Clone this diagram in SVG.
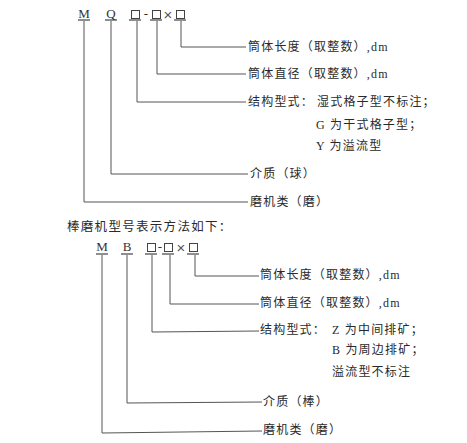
<svg xmlns="http://www.w3.org/2000/svg" width="467" height="443" viewBox="0 0 467 443">
<style>
.ln{stroke:#555;stroke-width:1;fill:none}
.bx{stroke:#444;stroke-width:1;fill:none}
.ul{stroke:#444;stroke-width:1.2}
.cd{font-family:"Liberation Serif","Noto Sans CJK SC",serif;font-size:13px;fill:#333;text-anchor:middle}
.x{font-family:"Liberation Sans",sans-serif;font-size:15px;fill:#555;text-anchor:middle}
.lb{font-family:"Liberation Serif","Noto Sans CJK SC",serif;font-size:12px;fill:#2a2a2a;letter-spacing:1.2px}
.tt{font-family:"Liberation Serif","Noto Sans CJK SC",serif;font-size:12.5px;fill:#2a2a2a;letter-spacing:1.3px}
</style>
<rect width="467" height="443" fill="#fff"/>
<g id="connectors">
<polyline class="ln" points="181,21 181,47 246,47"/>
<polyline class="ln" points="157,21 157,74 246,74"/>
<polyline class="ln" points="137,21 137,102 246,102"/>
<polyline class="ln" points="111,21 111,174 248,174"/>
<polyline class="ln" points="84,21 84,202 248,202"/>
<polyline class="ln" points="195,255 195,276 259,276"/>
<polyline class="ln" points="170,255 170,304 259,304"/>
<polyline class="ln" points="152,255 152,332 259,331"/>
<polyline class="ln" points="127,255 127,403 262,402"/>
<polyline class="ln" points="102,255 102,433 262,431"/>
</g>
<g id="top-M"><text class="cd" x="84" y="18">M</text><line class="ul" x1="78" y1="20" x2="90" y2="20"/></g>
<g id="top-Q"><text class="cd" x="111" y="18">Q</text><line class="ul" x1="105" y1="20" x2="117" y2="20"/></g>
<g id="top-box1"><rect class="bx" x="131.5" y="10.5" width="8" height="8"/><line class="ul" x1="129" y1="20" x2="141" y2="20"/></g>
<text class="cd" x="146" y="18">-</text>
<g id="top-box2"><rect class="bx" x="152.5" y="10.5" width="8" height="8"/><line class="ul" x1="150" y1="20" x2="162" y2="20"/></g>
<text class="x" x="168" y="19.5">×</text>
<g id="top-box3"><rect class="bx" x="176.5" y="10.5" width="8" height="8"/><line class="ul" x1="174" y1="20" x2="186" y2="20"/></g>
<g id="top-length"><text class="lb" x="248" y="51">筒体长度（取整数）,dm</text></g>
<g id="top-diameter"><text class="lb" x="248" y="78">筒体直径（取整数）,dm</text></g>
<g id="top-structure">
<text class="lb" x="248" y="106">结构型式：</text>
<text class="lb" x="317" y="106">湿式格子型不标注；</text>
<text class="lb" x="316" y="129">G 为干式格子型；</text>
<text class="lb" x="316" y="150">Y 为溢流型</text>
</g>
<g id="top-medium"><text class="lb" x="250" y="178">介质（球）</text></g>
<g id="top-type"><text class="lb" x="250" y="206">磨机类（磨）</text></g>
<g id="title"><text class="tt" x="67" y="231">棒磨机型号表示方法如下：</text></g>
<g id="bot-M"><text class="cd" x="102" y="251">M</text><line class="ul" x1="96" y1="254" x2="108" y2="254"/></g>
<g id="bot-B"><text class="cd" x="127" y="251">B</text><line class="ul" x1="121" y1="254" x2="133" y2="254"/></g>
<g id="bot-box1"><rect class="bx" x="147.5" y="243.5" width="8" height="8"/><line class="ul" x1="145" y1="254" x2="157" y2="254"/></g>
<text class="cd" x="160" y="251">-</text>
<g id="bot-box2"><rect class="bx" x="164.5" y="243.5" width="8" height="8"/><line class="ul" x1="162" y1="254" x2="174" y2="254"/></g>
<text class="x" x="181" y="252.5">×</text>
<g id="bot-box3"><rect class="bx" x="189.5" y="243.5" width="8" height="8"/><line class="ul" x1="187" y1="254" x2="199" y2="254"/></g>
<g id="bot-length"><text class="lb" x="260" y="279">筒体长度（取整数）,dm</text></g>
<g id="bot-diameter"><text class="lb" x="260" y="307">筒体直径（取整数）,dm</text></g>
<g id="bot-structure">
<text class="lb" x="260" y="334">结构型式：</text>
<text class="lb" x="332" y="334">Z 为中间排矿；</text>
<text class="lb" x="332" y="354">B 为周边排矿；</text>
<text class="lb" x="332" y="376">溢流型不标注</text>
</g>
<g id="bot-medium"><text class="lb" x="263" y="406">介质（棒）</text></g>
<g id="bot-type"><text class="lb" x="263" y="434">磨机类（磨）</text></g>
</svg>
